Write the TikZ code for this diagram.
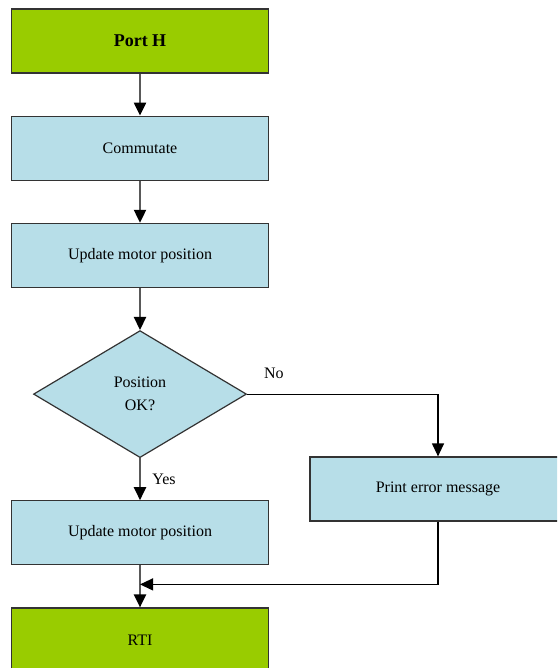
\documentclass[tikz,border=0pt]{standalone}
\usepackage{fontspec}
\setmainfont{Liberation Serif}
\usepackage{tikz}
\usetikzlibrary{calc,positioning,shapes.geometric,arrows.meta}
\definecolor{PortGreen}{HTML}{99CC00}
\definecolor{StepBlue}{HTML}{B7DEE8}

\begin{document}
\begin{tikzpicture}[x=1pt,y=-1pt,
    font=\fontsize{16}{19}\selectfont,
    box/.style={draw=black!80, line width=1.2pt, fill=StepBlue, minimum width=257pt, minimum height=64pt, align=center},
    endbox/.style={box, fill=PortGreen},
    decide/.style={diamond, draw=black!80, line width=1.2pt, fill=StepBlue, minimum width=213pt, minimum height=127pt, inner sep=0pt, align=center},
    flow/.style={draw=black!65, line width=2.2pt, -{Triangle[width=12pt,length=13pt,color=black]}},
    wire/.style={draw=black, line width=1.2pt},
    node distance=42pt]
    \clip (0,0) rectangle (557,668);
    \useasboundingbox (0,0) rectangle (557,668);

    \node[endbox, font=\fontsize{18}{20}\selectfont\bfseries] (porth) at (140,41) {Port H};
    \node[box, below=of porth] (commutate) {Commutate};
    \node[box, below=of commutate] (update) {Update motor position};
    \node[decide, below=of update, font=\fontsize{16}{23}\selectfont] (posok) {Position\\OK?};
    \node[box, below=of posok] (update2) {Update motor position};
    \node[endbox, below=of update2] (rti) {RTI};
    \node[box, minimum width=256pt] (printerr) at (438,489) {Print error message};
    \coordinate (merge) at ([yshift=-19pt]update2.south);

    \draw[flow] (porth) -- (commutate);
    \draw[flow] (commutate) -- (update);
    \draw[flow] (update) -- (posok);
    \draw[flow] (posok) -- node[right=8pt] {Yes} (update2);
    \draw[wire, -{Triangle[width=12pt,length=13pt]}] (posok.east) -| node[pos=0.07, above=12pt] {No} (printerr.north);
    \draw[flow] (update2) -- (rti);
    \draw[wire, -{Triangle[width=12pt,length=13pt]}] (printerr.south) |- (merge);
\end{tikzpicture}
\end{document}
